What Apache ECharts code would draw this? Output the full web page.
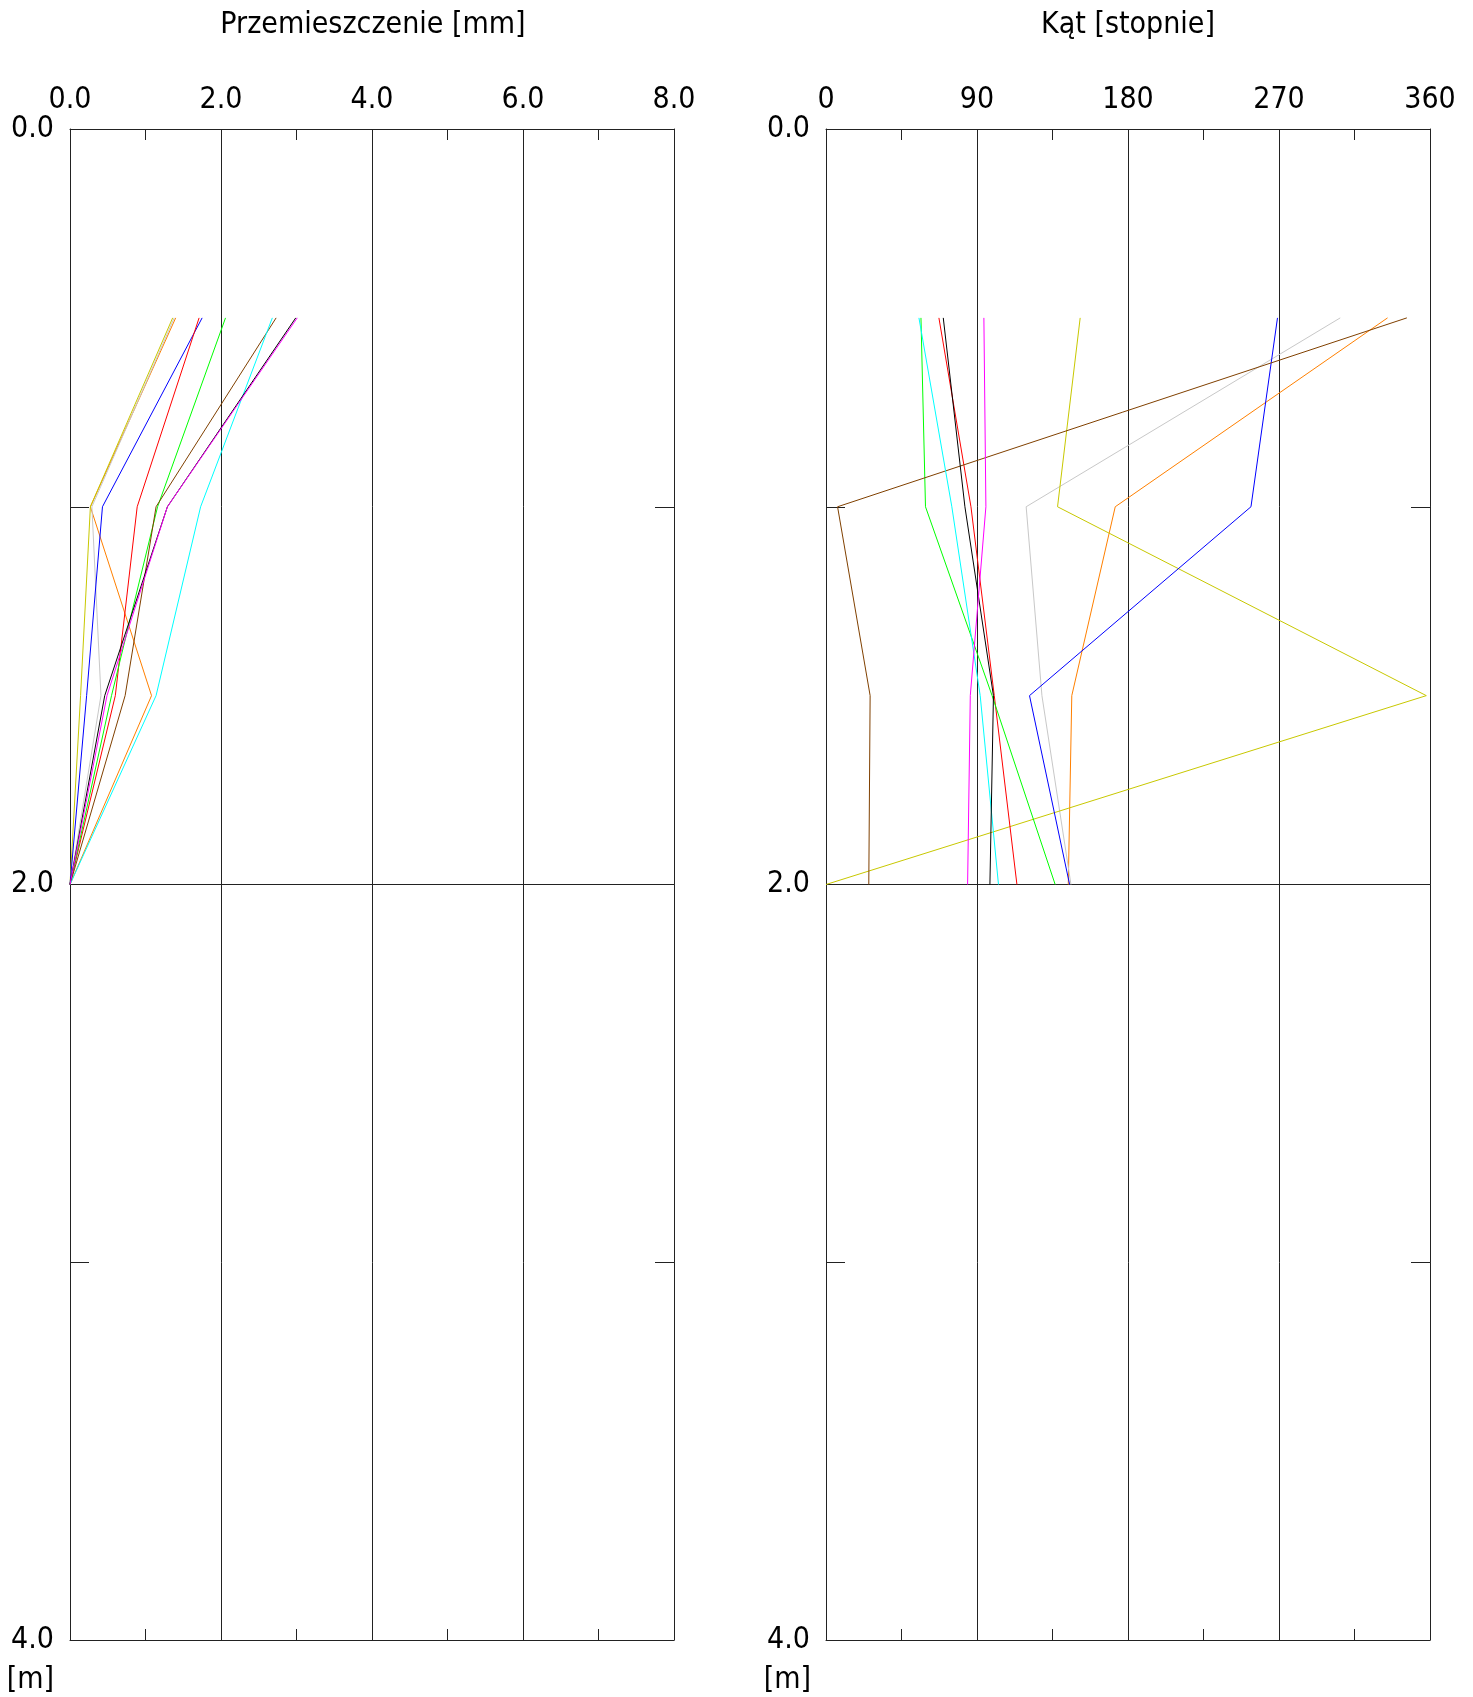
<!DOCTYPE html>
<html><head><meta charset="utf-8">
<script src="https://cdn.jsdelivr.net/npm/echarts@6/dist/echarts.min.js"></script>
<style>html,body{margin:0;padding:0;background:#fff}#c{width:1473px;height:1697px}</style>
</head><body><div id="c"></div>
<script>
// ---- data ----
const depthM = [0.5, 1.0, 1.5, 2.0];
const depthTicks = [0, 2, 4];
const dispTicks = [0, 2, 4, 6, 8];
const angleTicks = [0, 90, 180, 270, 360];
const titleDisp = 'Przemieszczenie [mm]';
const titleAngle = 'Kąt [stopnie]';
const unitDepth = '[m]';

// displacement [mm] at depths 0.5, 1.0, 1.5, 2.0
const dispOrange  = [1.40, 0.27, 1.08, 0];
const dispGray    = [1.38, 0.29, 0.41, 0];
const dispYellow  = [1.36, 0.27, 0.14, 0];
const dispBlue    = [1.75, 0.43, 0.22, 0];
const dispRed     = [1.71, 0.89, 0.60, 0];
const dispGreen   = [2.06, 1.16, 0.55, 0];
const dispBrown   = [2.73, 1.14, 0.73, 0];
const dispCyan    = [2.68, 1.73, 1.14, 0];
const dispBlack   = [2.99, 1.29, 0.46, 0];
const dispMagenta = [3.01, 1.29, 0.49, 0];

// angle [deg] at depths 0.5, 1.0, 1.5, 2.0
const angOrange  = [334.7, 172.4, 146.5, 144.4];
const angGray    = [306.5, 119.3, 128.7, 146.0];
const angYellow  = [151.5, 138.0, 357.8, 0];
const angBlue    = [269.1, 253.3, 121.3, 145.2];
const angRed     = [67.3, 86.4, 100.3, 113.8];
const angGreen   = [56.6, 59.3, 99.0, 136.6];
const angBrown   = [346.2, 6.9, 26.3, 25.5];
const angCyan    = [55.4, 75.0, 91.9, 102.8];
const angBlack   = [69.9, 82.8, 99.8, 97.7];
const angMagenta = [94.1, 95.3, 86.0, 84.4];

// ---- styles ----
const COLORS = {
  orange:'#ff8000', gray:'#c8c8c8', yellow:'#c8c800', blue:'#0000ff', red:'#ff0000',
  green:'#00ff00', brown:'#804000', cyan:'#00ffff', black:'#000000', magenta:'#ff00ff'
};
const dispSets = {orange:dispOrange, gray:dispGray, yellow:dispYellow, blue:dispBlue, red:dispRed,
  green:dispGreen, brown:dispBrown, cyan:dispCyan, black:dispBlack, magenta:dispMagenta};
const angSets = {orange:angOrange, gray:angGray, yellow:angYellow, blue:angBlue, red:angRed,
  green:angGreen, brown:angBrown, cyan:angCyan, black:angBlack, magenta:angMagenta};

const FONT = '"DejaVu Sans Condensed", "DejaVu Sans", sans-serif';
const FS = 30;
const AX = '#222';
const R1 = {left:70, top:129, width:604, height:1511};
const R2 = {left:826, top:129, width:604, height:1511};
// grids 0,1: main (labels, grid lines, series); grids 2,3: overlay for half-step ticks
const grids = [R1, R2, Object.assign({}, R1), Object.assign({}, R2)];

function mainX(gi, ticks, fmt){
  return [{gridIndex:gi, type:'value', position:'top', min:ticks[0], max:ticks[ticks.length-1],
    interval:ticks[1]-ticks[0],
    axisLine:{show:true, onZero:false, lineStyle:{color:AX, width:1}}, axisTick:{show:false},
    axisLabel:{show:true, margin:14, color:'#000', fontSize:FS, fontFamily:FONT, formatter:fmt},
    splitLine:{show:true, lineStyle:{color:AX, width:1}}},
   {gridIndex:gi, type:'value', position:'bottom', min:ticks[0], max:ticks[ticks.length-1],
    interval:ticks[1]-ticks[0],
    axisLine:{show:true, onZero:false, lineStyle:{color:AX, width:1}}, axisTick:{show:false},
    axisLabel:{show:false}, splitLine:{show:false}}];
}
function tickX(gi, ticks){
  const step = (ticks[1]-ticks[0])/2;
  return ['top','bottom'].map(p=>({gridIndex:gi, type:'value', position:p, min:ticks[0],
    max:ticks[ticks.length-1], interval:step,
    axisLine:{show:false, onZero:false}, axisTick:{show:true, inside:true, length:11, lineStyle:{color:AX, width:1}},
    axisLabel:{show:false}, splitLine:{show:false}}));
}
function mainY(gi){
  return [{gridIndex:gi, type:'value', position:'left', inverse:true, min:depthTicks[0],
    max:depthTicks[depthTicks.length-1], interval:depthTicks[1]-depthTicks[0],
    axisLine:{show:true, onZero:false, lineStyle:{color:AX, width:1}}, axisTick:{show:false},
    axisLabel:{show:true, margin:16, color:'#000', fontSize:FS, fontFamily:FONT, formatter:v=>v.toFixed(1)},
    splitLine:{show:true, lineStyle:{color:AX, width:1}}},
   {gridIndex:gi, type:'value', position:'right', inverse:true, min:depthTicks[0],
    max:depthTicks[depthTicks.length-1], interval:depthTicks[1]-depthTicks[0],
    axisLine:{show:true, onZero:false, lineStyle:{color:AX, width:1}}, axisTick:{show:false},
    axisLabel:{show:false}, splitLine:{show:false}}];
}
function tickY(gi){
  const step = (depthTicks[1]-depthTicks[0])/2;
  return ['left','right'].map(p=>({gridIndex:gi, type:'value', position:p, inverse:true,
    min:depthTicks[0], max:depthTicks[depthTicks.length-1], interval:step,
    axisLine:{show:false, onZero:false}, axisTick:{show:true, inside:true, length:19, lineStyle:{color:AX, width:1}},
    axisLabel:{show:false}, splitLine:{show:false}}));
}

const xAxis = [...mainX(0, dispTicks, v=>v.toFixed(1)), ...mainX(1, angleTicks, v=>String(v)),
               ...tickX(2, dispTicks), ...tickX(3, angleTicks)];
const yAxis = [...mainY(0), ...mainY(1), ...tickY(2), ...tickY(3)];

const series = [];
Object.keys(COLORS).forEach(k=>{
  series.push({type:'line', xAxisIndex:0, yAxisIndex:0, symbol:'none', silent:true, z:3,
    lineStyle:{color:COLORS[k], width:1}, data:dispSets[k].map((v,i)=>[v, depthM[i]])});
  series.push({type:'line', xAxisIndex:2, yAxisIndex:2, symbol:'none', silent:true, z:3,
    lineStyle:{color:COLORS[k], width:1}, data:angSets[k].map((v,i)=>[v, depthM[i]])});
});

const chart = echarts.init(document.getElementById('c'), null, {renderer:'canvas'});
chart.setOption({
  animation:false,
  backgroundColor:'#fff',
  title:[
    {text:titleDisp, left:368, top:5, textAlign:'center', textStyle:{fontSize:FS, fontWeight:'normal', color:'#000', fontFamily:FONT}},
    {text:titleAngle, left:1123, top:5, textAlign:'center', textStyle:{fontSize:FS, fontWeight:'normal', color:'#000', fontFamily:FONT}}
  ],
  grid:grids,
  xAxis:xAxis,
  yAxis:yAxis,
  graphic:[
    {type:'text', right:1473-54, top:1665, style:{text:unitDepth, fontSize:FS, fontFamily:FONT, fill:'#000'}},
    {type:'text', right:1473-811, top:1665, style:{text:unitDepth, fontSize:FS, fontFamily:FONT, fill:'#000'}}
  ],
  series:series
});
</script></body></html>
